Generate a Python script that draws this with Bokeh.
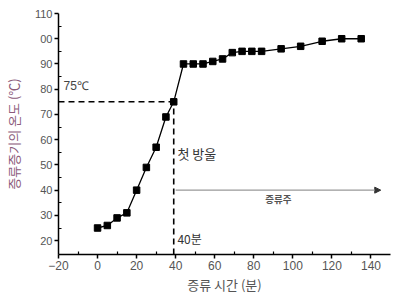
from bokeh.plotting import figure
from bokeh.models import Range1d, FixedTicker, Arrow, NormalHead, ColumnDataSource
from bokeh.core.properties import value
from bokeh.embed import file_html
from bokeh.resources import INLINE

# data
time_min = [0, 5, 10, 15, 20, 25, 30, 35, 39, 44, 49, 54, 59, 64, 69, 74, 79, 84, 94, 104, 115, 125, 135]
temp_c = [25, 26, 29, 31, 40, 49, 57, 69, 75, 90, 90, 90, 91, 92, 94.5, 95, 95, 95, 96, 97, 99, 100, 100]

x_ticks = [-20, 0, 20, 40, 60, 80, 100, 120, 140]
y_ticks = [20, 30, 40, 50, 60, 70, 80, 90, 100, 110]
y_tick_labels = {100: "00"}

first_drop_time = 39
first_drop_temp = 75
arrow_level = 40
arrow_end = 145

KR = "Noto Sans CJK KR"
NUM = "Liberation Sans"

p = figure(width=400, height=296, output_backend="svg", toolbar_location=None,
           x_range=Range1d(-20, 150), y_range=Range1d(14.5, 110),
           min_border_left=58, min_border_right=10, min_border_top=13, min_border_bottom=39)
p.outline_line_color = None
p.xgrid.visible = False
p.ygrid.visible = False
p.background_fill_color = "white"
p.border_fill_color = "white"

for ax in (p.xaxis[0], p.yaxis[0]):
    ax.axis_line_color = "black"
    ax.axis_line_width = 1.5
    ax.major_tick_line_color = "black"
    ax.minor_tick_line_color = "black"
    ax.major_tick_line_width = 1.5
    ax.minor_tick_line_width = 1.2
    ax.major_tick_out = 4
    ax.major_tick_in = 0
    ax.minor_tick_out = 0
    ax.minor_tick_in = 3
    ax.major_label_text_font = NUM
    ax.major_label_text_color = "#555555"
    ax.major_label_standoff = 2
    ax.axis_label_text_font = KR
    ax.axis_label_text_font_style = "normal"

p.xaxis.major_label_text_font_size = "12px"
p.yaxis.major_label_text_font_size = "11px"
p.xaxis.ticker = FixedTicker(ticks=x_ticks, minor_ticks=list(range(-10, 150, 20)))
p.yaxis.ticker = FixedTicker(ticks=y_ticks, minor_ticks=[v + 5 for v in y_ticks[:-1]])
p.yaxis.major_label_overrides = y_tick_labels
p.xaxis.axis_label = "증류 시간 (분)"
p.xaxis.axis_label_text_font_size = "13px"
p.xaxis.axis_label_text_color = "#555555"
p.xaxis.axis_label_standoff = 2
p.yaxis.axis_label = "증류증기의 온도 (℃)"
p.yaxis.axis_label_text_font_size = "13px"
p.yaxis.axis_label_text_color = "#8b5a7a"
p.yaxis.axis_label_standoff = 9

# dashed guide lines
p.line([-20, first_drop_time], [first_drop_temp, first_drop_temp], line_color="black",
       line_width=1.6, line_dash="6 4")
p.line([first_drop_time, first_drop_time], [14.5, first_drop_temp], line_color="black",
       line_width=1.6, line_dash="6 4")

# arrow
p.add_layout(Arrow(end=NormalHead(size=6, fill_color="#333333", line_color="#333333"),
                   x_start=first_drop_time + 1, y_start=arrow_level, x_end=arrow_end, y_end=arrow_level,
                   line_color="#999999", line_width=1.2))

src = ColumnDataSource(dict(x=time_min, y=temp_c))
p.line("x", "y", source=src, line_color="black", line_width=1.3)
p.scatter("x", "y", source=src, marker="square", size=6.5, fill_color="black", line_color="black")

p.text(x=[-17.4], y=[81.3], text=["75℃"], text_font=value(NUM), text_font_size="12px",
       text_color="#444444", text_baseline="middle", text_align="left")
p.text(x=[40.9], y=[54.6], text=["첫 방울"], text_font=value(KR), text_font_size="13px",
       text_color="#333333", text_baseline="middle", text_align="left")
p.text(x=[40.9], y=[20.9], text=["40분"], text_font=value(KR), text_font_size="12px",
       text_color="#333333", text_baseline="middle", text_align="left")
p.text(x=[92.6], y=[36.3], text=["증류주"], text_font=value(KR), text_font_size="9.5px",
       text_color="#555555", text_baseline="middle", text_align="center", text_font_style="bold")

open("out.html", "w").write(file_html(p, INLINE))
